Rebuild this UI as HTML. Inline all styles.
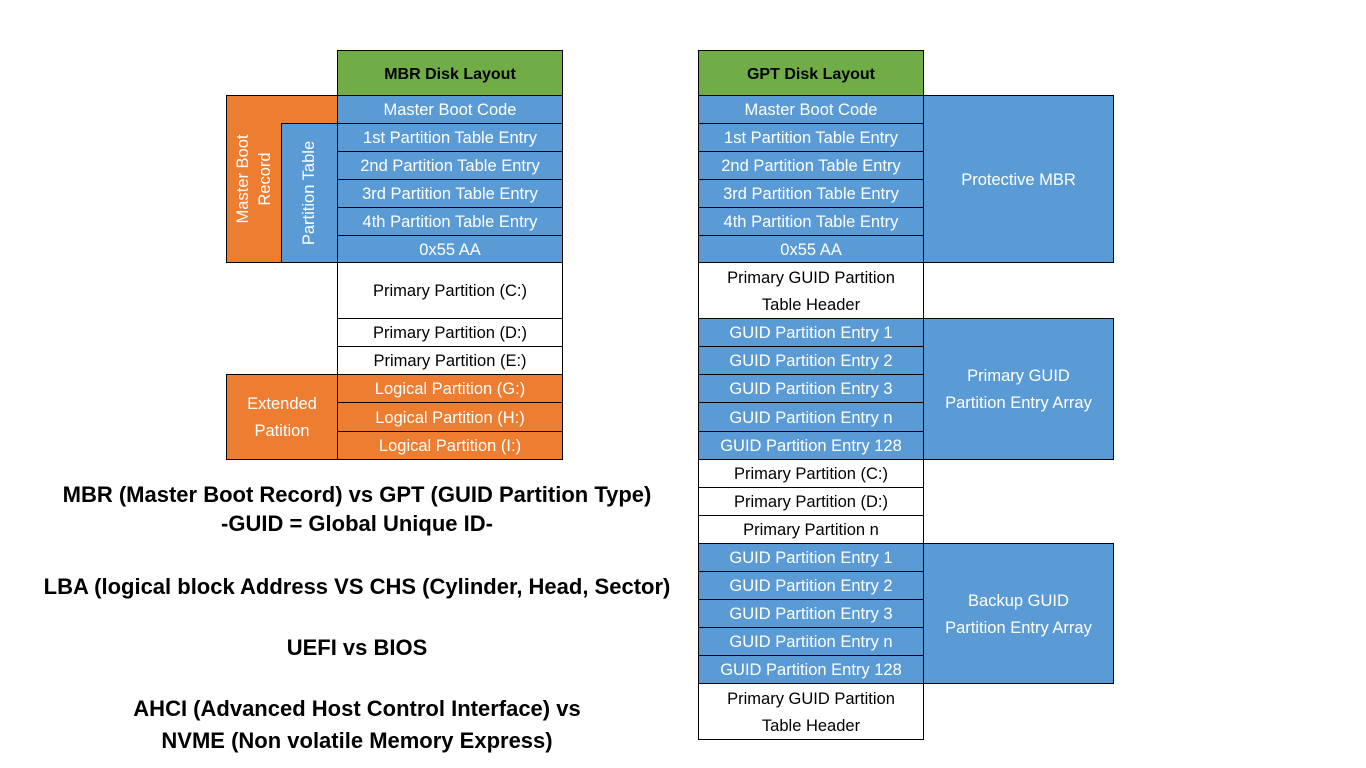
<!DOCTYPE html>
<html><head><meta charset="utf-8"><style>
body{margin:0;width:1366px;height:768px;background:#fff;position:relative;overflow:hidden;font-family:"Liberation Sans",sans-serif}
.c{position:absolute;box-sizing:border-box;border:1px solid #000;display:flex;align-items:center;justify-content:center;text-align:center;font-size:16.5px;line-height:27px;color:#fff;padding-top:2px}
.b{background:#5b9bd5}.o{background:#ed7d31}.g{background:#70ad47;color:#000;font-weight:bold;font-size:16px}.w{background:#fff;color:#000}
.v{position:absolute;color:#fff;font-size:16.5px;line-height:22px;text-align:center;transform:rotate(-90deg);white-space:nowrap}
.t{position:absolute;left:0;width:714px;text-align:center;font-weight:bold;font-size:22px;color:#000;white-space:nowrap}
</style></head><body>
<!-- MBR -->
<div class="c o" style="left:226px;top:95px;width:112px;height:168px"></div>
<div class="c b" style="left:281px;top:123px;width:57px;height:140px"></div>
<div class="v" style="left:194px;top:157px;width:120px">Master Boot<br>Record</div>
<div class="v" style="left:249px;top:182px;width:120px">Partition Table</div>
<div class="c o" style="left:226px;top:374px;width:112px;height:86px;line-height:27px">Extended<br>Patition</div>

<div class="c g" style="left:337px;top:50px;width:226px;height:46px">MBR Disk Layout</div>
<div class="c b" style="left:337px;top:95px;width:226px;height:29px">Master Boot Code</div>
<div class="c b" style="left:337px;top:123px;width:226px;height:29px">1st Partition Table Entry</div>
<div class="c b" style="left:337px;top:151px;width:226px;height:29px">2nd Partition Table Entry</div>
<div class="c b" style="left:337px;top:179px;width:226px;height:29px">3rd Partition Table Entry</div>
<div class="c b" style="left:337px;top:207px;width:226px;height:29px">4th Partition Table Entry</div>
<div class="c b" style="left:337px;top:235px;width:226px;height:28px">0x55 AA</div>
<div class="c w" style="left:337px;top:262px;width:226px;height:57px">Primary Partition (C:)</div>
<div class="c w" style="left:337px;top:318px;width:226px;height:29px">Primary Partition (D:)</div>
<div class="c w" style="left:337px;top:346px;width:226px;height:29px">Primary Partition (E:)</div>
<div class="c o" style="left:337px;top:374px;width:226px;height:29px">Logical Partition (G:)</div>
<div class="c o" style="left:337px;top:402px;width:226px;height:30px">Logical Partition (H:)</div>
<div class="c o" style="left:337px;top:431px;width:226px;height:29px">Logical Partition (I:)</div>

<!-- GPT -->
<div class="c g" style="left:698px;top:50px;width:226px;height:46px">GPT Disk Layout</div>
<div class="c b" style="left:698px;top:95px;width:226px;height:29px">Master Boot Code</div>
<div class="c b" style="left:698px;top:123px;width:226px;height:29px">1st Partition Table Entry</div>
<div class="c b" style="left:698px;top:151px;width:226px;height:29px">2nd Partition Table Entry</div>
<div class="c b" style="left:698px;top:179px;width:226px;height:29px">3rd Partition Table Entry</div>
<div class="c b" style="left:698px;top:207px;width:226px;height:29px">4th Partition Table Entry</div>
<div class="c b" style="left:698px;top:235px;width:226px;height:28px">0x55 AA</div>
<div class="c w" style="left:698px;top:262px;width:226px;height:57px">Primary GUID Partition<br>Table Header</div>
<div class="c b" style="left:698px;top:318px;width:226px;height:29px">GUID Partition Entry 1</div>
<div class="c b" style="left:698px;top:346px;width:226px;height:29px">GUID Partition Entry 2</div>
<div class="c b" style="left:698px;top:374px;width:226px;height:29px">GUID Partition Entry 3</div>
<div class="c b" style="left:698px;top:402px;width:226px;height:30px">GUID Partition Entry n</div>
<div class="c b" style="left:698px;top:431px;width:226px;height:29px">GUID Partition Entry 128</div>
<div class="c w" style="left:698px;top:459px;width:226px;height:29px">Primary Partition (C:)</div>
<div class="c w" style="left:698px;top:487px;width:226px;height:29px">Primary Partition (D:)</div>
<div class="c w" style="left:698px;top:515px;width:226px;height:29px">Primary Partition n</div>
<div class="c b" style="left:698px;top:543px;width:226px;height:29px">GUID Partition Entry 1</div>
<div class="c b" style="left:698px;top:571px;width:226px;height:29px">GUID Partition Entry 2</div>
<div class="c b" style="left:698px;top:599px;width:226px;height:29px">GUID Partition Entry 3</div>
<div class="c b" style="left:698px;top:627px;width:226px;height:29px">GUID Partition Entry n</div>
<div class="c b" style="left:698px;top:655px;width:226px;height:29px">GUID Partition Entry 128</div>
<div class="c w" style="left:698px;top:683px;width:226px;height:57px">Primary GUID Partition<br>Table Header</div>

<div class="c b" style="left:923px;top:95px;width:191px;height:168px">Protective MBR</div>
<div class="c b" style="left:923px;top:318px;width:191px;height:142px">Primary GUID<br>Partition Entry Array</div>
<div class="c b" style="left:923px;top:543px;width:191px;height:141px">Backup GUID<br>Partition Entry Array</div>

<!-- text -->
<div class="t" style="top:482px">MBR (Master Boot Record) vs GPT (GUID Partition Type)</div>
<div class="t" style="top:511px">-GUID = Global Unique ID-</div>
<div class="t" style="top:574px">LBA (logical block Address VS CHS (Cylinder, Head, Sector)</div>
<div class="t" style="top:635px">UEFI vs BIOS</div>
<div class="t" style="top:696px">AHCI (Advanced Host Control Interface) vs</div>
<div class="t" style="top:728px">NVME (Non volatile Memory Express)</div>
</body></html>
